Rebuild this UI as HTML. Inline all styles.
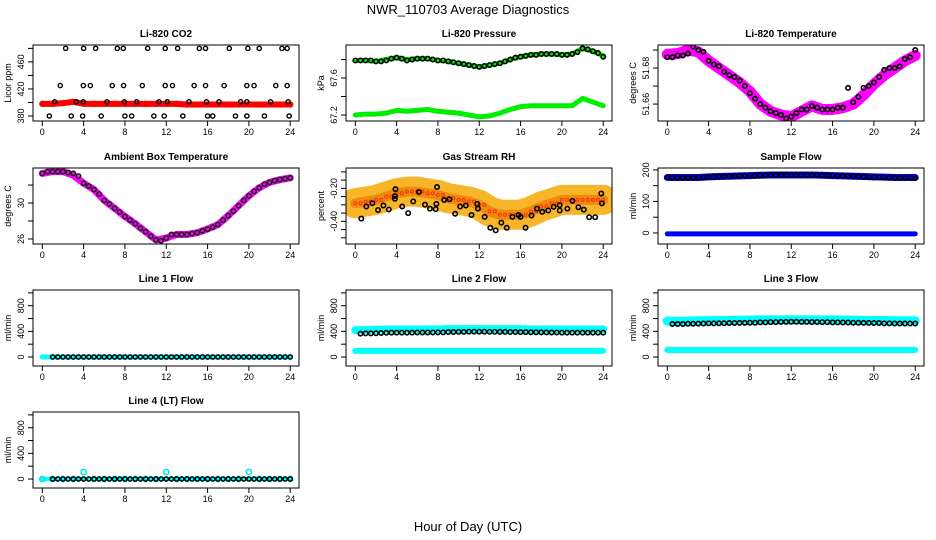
<!DOCTYPE html>
<html><head><meta charset="utf-8">
<style>
body{margin:0;background:#fff;}
svg{display:block;font-family:"Liberation Sans",sans-serif;}
</style></head>
<body>
<svg id="chart" width="936" height="540" viewBox="0 0 936 540" xmlns="http://www.w3.org/2000/svg">
<text x="468" y="14" font-size="13" text-anchor="middle">NWR_110703  Average Diagnostics</text>
<text x="468" y="531" font-size="13" text-anchor="middle">Hour of Day (UTC)</text>
</svg>
<script>
const xTicks = [0,4,8,12,16,20,24];
// CO2
const co2Red = [398,398,399,401,398,398,398,398,398,398,398,398,398,398,397,397,397,397,397,397,397,397,397,397,397];
const co2BlackHours = [2.26,4.0,5.16,7.26,7.84,10.2,11.9,13.1,15.2,15.8,18.1,19.9,21.0,23.2,23.7, 1.74,3.97,4.65,6.77,7.87,9.68,11.9,12.6,14.7,15.8,17.6,19.8,20.5,22.6,23.7, 1.2,3.3,3.97,6.26,7.94,9.13,11.3,12.1,14.2,15.9,17.1,19.2,19.8,22.1,23.8, 0.68,2.8,3.9,5.7,8.0,8.65,10.8,11.8,13.6,16.0,16.5,18.7,19.8,21.5,23.9];
const co2BlackVals = [480,480,480,480,480,480,480,480,480,480,480,480,480,480,480, 425,425,425,425,425,425,425,425,425,425,425,425,425,425,425, 401,401,401,401,401,401,401,401,401,401,401,401,401,401,401, 380,380,380,380,380,380,380,380,380,380,380,380,380,380,380];
// Pressure
const presGreenHi = [67.79,67.79,67.78,67.80,67.82,67.80,67.81,67.81,67.79,67.78,67.76,67.74,67.72,67.74,67.76,67.80,67.83,67.85,67.86,67.86,67.85,67.86,67.92,67.89,67.84];
const presGreenLo = [67.20,67.21,67.21,67.22,67.25,67.24,67.25,67.26,67.24,67.23,67.22,67.20,67.18,67.19,67.22,67.26,67.29,67.30,67.30,67.30,67.30,67.30,67.38,67.34,67.30];
const presBlack = [67.79,67.79,67.79,67.79,67.78,67.78,67.79,67.81,67.82,67.81,67.79,67.80,67.81,67.81,67.81,67.80,67.79,67.79,67.78,67.77,67.76,67.75,67.74,67.73,67.72,67.73,67.74,67.75,67.76,67.78,67.80,67.82,67.83,67.84,67.85,67.85,67.86,67.86,67.86,67.86,67.85,67.85,67.86,67.88,67.92,67.91,67.89,67.87,67.83];
// Li-820 temperature
const ltPink = [51.6876,51.688,51.690,51.689,51.684,51.680,51.676,51.672,51.667,51.660,51.656,51.654,51.653,51.656,51.659,51.657,51.657,51.658,51.660,51.665,51.671,51.676,51.680,51.684,51.687];
const ltBlack = [51.686,51.686,51.687,51.687,51.688,51.692,51.690,51.689,51.684,51.682,51.681,51.678,51.676,51.675,51.673,51.670,51.666,51.663,51.660,51.658,51.656,51.655,51.654,51.652,51.653,51.655,51.657,51.657,51.659,51.658,51.657,51.657,51.657,51.658,51.658,51.669,51.661,51.664,51.669,51.670,51.672,51.675,51.679,51.680,51.680,51.681,51.685,51.686,51.690];
// Ambient
const ambPink = [33.3,33.5,33.5,33.1,32.2,31.5,30.3,29.4,28.5,27.7,26.8,25.9,26.1,26.5,26.5,26.7,27.1,27.6,28.6,29.7,30.8,31.7,32.3,32.6,32.8];
const ambBlack = [33.3,33.5,33.5,33.5,33.5,33.4,33.3,33.0,32.2,31.9,31.5,31.0,30.3,29.9,29.4,29.0,28.5,28.1,27.7,27.2,26.8,26.3,25.9,25.8,26.1,26.5,26.5,26.5,26.5,26.6,26.7,26.9,27.1,27.3,27.6,28.1,28.6,29.1,29.7,30.3,30.8,31.3,31.7,32.1,32.3,32.5,32.6,32.7,32.8];
// RH
const rhCloud = [-0.29,-0.28,-0.27,-0.25,-0.23,-0.22,-0.22,-0.23,-0.24,-0.26,-0.27,-0.28,-0.30,-0.34,-0.36,-0.36,-0.36,-0.34,-0.31,-0.29,-0.27,-0.27,-0.27,-0.27,-0.27];
const rhBlackHours = [0.58,1.07,1.65,2.2,2.72,3.24,3.83,3.83,3.89,4.54,5.12,5.61,6.16,6.75,7.23,7.78,7.85,7.91,8.6,9.11,9.67,10.15,10.7,11.25,11.8,11.87,12.52,13.07,13.59,14.14,14.66,15.21,15.8,15.99,16.48,17.06,17.58,18.1,18.68,19.2,19.79,19.79,20.53,21.02,21.6,22.12,22.64,23.22,23.81,23.87];
const rhBlackVals = [-0.384,-0.31,-0.29,-0.331,-0.304,-0.328,-0.247,-0.263,-0.205,-0.31,-0.35,-0.279,-0.222,-0.299,-0.323,-0.326,-0.294,-0.192,-0.271,-0.266,-0.354,-0.31,-0.304,-0.362,-0.294,-0.323,-0.373,-0.439,-0.455,-0.408,-0.439,-0.373,-0.362,-0.373,-0.439,-0.365,-0.323,-0.342,-0.334,-0.312,-0.302,-0.334,-0.323,-0.276,-0.315,-0.329,-0.375,-0.375,-0.231,-0.291];
// Sample flow
const sfBlueHi = [176,176,176,176,178,179,180,181,182,183,184,184,184,184,184,183,182,181,180,179,178,177,176,176,176];
const sfBlueLo = [-3,-3,-3,-3,-3,-3,-3,-3,-3,-3,-3,-3,-3,-3,-3,-3,-3,-3,-3,-3,-3,-3,-3,-3,-3];
const sfBlack = [176,176,175,175,175,175,176,176,177,178,179,179,180,181,181,181,182,182,183,183,184,184,185,185,184,184,184,184,184,184,183,183,182,182,181,181,180,179,178,177,176,176,176,176,175,175,175,175,174];
// Line flows
const l1Cyan = [0,0,0,0,0,0,0,0,0,0,0,0,0,0,0,0,0,0,0,0,0,0,0,0,0];
const l1Black = [null,null,0,0,0,0,0,0,0,0,0,0,0,0,0,0,0,0,0,0,0,0,0,0,0,0,0,0,0,0,0,0,0,0,0,0,0,0,0,0,0,0,0,0,0,0,0,0,0];
const l2CyanHi = [420,420,425,430,430,430,430,430,430,435,435,435,435,435,435,435,435,430,430,430,430,430,430,430,430];
const l2CyanLo = [95,95,95,95,95,95,95,95,95,95,95,95,95,95,95,95,95,95,95,95,95,95,95,95,95];
const l2Black = [null,365,368,368,370,375,378,380,380,380,380,380,382,382,383,383,385,385,390,390,392,392,395,395,395,395,393,393,392,392,390,390,388,388,386,386,384,384,382,382,380,380,380,380,380,380,380,380,380];
const l3CyanHi = [560,560,560,565,565,570,570,575,575,580,580,580,580,580,580,580,580,575,575,570,570,570,565,565,565];
const l3CyanLo = [110,110,110,110,110,110,110,110,110,110,110,110,110,110,110,110,110,110,110,110,110,110,110,110,110];
const l3Black = [null,515,515,515,518,518,520,522,525,525,527,527,530,530,532,532,535,535,540,540,545,545,548,548,550,550,548,548,546,546,545,545,540,540,538,538,535,535,532,532,530,530,525,525,523,523,522,522,522];
const l4Cyan = [0,0,0,0,110,0,0,0,0,0,0,0,110,0,0,0,0,0,0,0,110,0,0,0,0];
const l4Black = [null,null,0,0,0,0,0,0,0,0,0,0,0,0,0,0,0,0,0,0,0,0,0,0,0,0,0,0,0,0,0,0,0,0,0,0,0,0,0,0,0,0,0,0,0,0,0,0,0];

const NS = "http://www.w3.org/2000/svg";
const svg = document.getElementById('chart');
const hoursHourly = Array.from({length:25},(_, i)=>i);
const hoursHalf = Array.from({length:49},(_, i)=>i/2);
const colX = [0,313,625];
const rowY = [45,168,290,412];

function mk(tag, parent, attrs){
  const e = document.createElementNS(NS, tag);
  for (const k in attrs) e.setAttribute(k, attrs[k]);
  parent.appendChild(e);
  return e;
}

function panel(col,row,name,title,ylab,ylim,ticks,labels){
  const g = mk('g', svg, {});
  
  
  const L = 33+colX[col], R = 299+colX[col], T = rowY[row], B = T+76;
  const sx = h => (42.3+colX[col]) + h*10.33;
  const sy = v => B - (v-ylim[0])/(ylim[1]-ylim[0])*(B-T);
  const t = mk('text', g, {x:(L+R)/2, y:T-8, 'font-size':10, 'font-weight':'bold','text-anchor':'middle'});
  t.textContent = title;
  
  
  const yl = mk('text', g, {x:0,y:0,'font-size':9,'text-anchor':'middle',transform:`translate(${L-22},${(T+B)/2}) rotate(-90)`});
  yl.textContent = ylab;
  
  
  xTicks.forEach(h=>{
    mk('line', g, {x1:sx(h),x2:sx(h),y1:B,y2:B+5,stroke:'#000','stroke-width':1});
    const tx = mk('text', g, {x:sx(h), y:B+14, 'font-size':9,'text-anchor':'middle'});
    tx.textContent = h;
    
    
  });
  ticks.forEach((v,i)=>{
    const y = sy(v);
    mk('line', g, {x1:L-5,x2:L,y1:y,y2:y,stroke:'#000','stroke-width':1});
    if (labels[i] !== '') {
      const ty = mk('text', g, {x:0,y:0,'font-size':9,'text-anchor':'middle',transform:`translate(${L-9},${y}) rotate(-90)`});
      ty.textContent = labels[i];
      
      
    }
  });
  const clip = 'c'+col+row;
  const cp = mk('clipPath', g, {id:clip});
  mk('rect', cp, {x:L,y:T,width:R-L,height:B-T});
  const plot = mk('g', g, {'clip-path':`url(#${clip})`});
  mk('rect', g, {x:L,y:T,width:R-L,height:B-T,fill:'none',stroke:'#000','stroke-width':1});
  return {
    band(hours, vals, color, w, nm){
      const pts = [];
      hours.forEach((h,i)=>{ if (vals[i]!==null) pts.push(sx(h)+','+sy(vals[i])); });
      const p = mk('polyline', plot, {points:pts.join(' '),fill:'none',stroke:color,'stroke-width':w,'stroke-linejoin':'round','stroke-linecap':'round'});
      
      
    },
    dots(hours, vals, color, r, sw, nm){
      hours.forEach((h,i)=>{
        if (vals[i]===null) return;
        const c = mk('circle', plot, {cx:sx(h),cy:sy(vals[i]),r:r,fill:'none',stroke:color,'stroke-width':sw});
        
        
      });
    }
  };
}

let p = panel(0,0,'co2-panel','Li-820 CO2','Licor ppm',[372.6,485],[380,400,420,440,460,480],['380','','420','','460','']);
p.band(hoursHourly, co2Red, '#ff0000', 6, 'co2-red-series');
p.dots(hoursHourly, co2Red, '#ff0000', 2.5, 1.3, 'co2-red-point');
p.dots(co2BlackHours, co2BlackVals, '#000', 2.1, 1.4, 'co2-black-point');

p = panel(1,0,'pressure-panel','Li-820 Pressure','kPa',[67.135,67.957],[67.2,67.4,67.6,67.8],['67.2','','67.6','']);
p.band(hoursHourly, presGreenHi, '#00ee00', 5, 'pressure-green-high');
p.band(hoursHourly, presGreenLo, '#00ee00', 5, 'pressure-green-low');
p.dots(hoursHalf, presBlack, '#000', 2.2, 1.6, 'pressure-black-point');

p = panel(2,0,'li820-temp-panel','Li-820 Temperature','degrees C',[51.6506,51.6928],[51.66,51.67,51.68,51.69],['51.66','','51.68','']);
p.band(hoursHourly, ltPink, '#ff00ff', 11, 'li820-temp-pink');
p.dots(hoursHalf, ltBlack, '#000', 2.2, 1.6, 'li820-temp-black-point');

p = panel(0,1,'ambient-temp-panel','Ambient Box Temperature','degrees C',[25.44,33.9],[26,28,30,32],['26','','30','']);
p.band(hoursHourly, ambPink, '#ff00ff', 7, 'ambient-pink');
p.dots(hoursHalf, ambBlack, '#222', 2.2, 1.6, 'ambient-black-point');

p = panel(1,1,'rh-panel','Gas Stream RH','percent',[-0.5376,-0.0765],[-0.10,-0.15,-0.20,-0.25,-0.30,-0.35,-0.40,-0.45,-0.50],['','','-0.20','','','','-0.40','','']);
p.band(hoursHourly, rhCloud, '#f7b52a', 30, 'rh-cloud');
p.band(hoursHourly, rhCloud, '#ee8a10', 10, 'rh-cloud-core');
p.dots(hoursHalf.map(h=>h), rhCloud.concat([]).length ? hoursHalf.map((h,i)=>rhCloud[Math.floor(i/2)]) : [], '#ff3000', 1.5, 1, 'rh-cloud-point');
p.dots(rhBlackHours, rhBlackVals, '#000', 2.2, 1.6, 'rh-black-point');

p = panel(2,1,'sample-flow-panel','Sample Flow','ml/min',[-35,206],[0,50,100,150,200],['0','','100','','200']);
p.band(hoursHourly, sfBlueHi, '#0000ff', 7, 'sample-flow-blue-high');
p.band(hoursHourly, sfBlueLo, '#0000ff', 5, 'sample-flow-blue-low');
p.dots(hoursHalf, sfBlack, '#000', 2.2, 1.6, 'sample-flow-black-point');

const fTicks = [0,200,400,600,800,1000];
const fLabels = ['0','','400','','800',''];
p = panel(0,2,'line1-flow-panel','Line 1 Flow','ml/min',[-140,1045],fTicks,fLabels);
p.band(hoursHourly, l1Cyan, '#00ffff', 5, 'line1-cyan');
p.dots(hoursHalf, l1Black, '#000', 2.1, 1.5, 'line1-black-point');
p = panel(1,2,'line2-flow-panel','Line 2 Flow','ml/min',[-140,1045],fTicks,fLabels);
p.band(hoursHourly, l2CyanHi, '#00ffff', 8, 'line2-cyan-high');
p.band(hoursHourly, l2CyanLo, '#00ffff', 6, 'line2-cyan-low');
p.dots(hoursHalf, l2Black, '#000', 2.2, 1.6, 'line2-black-point');
p = panel(2,2,'line3-flow-panel','Line 3 Flow','ml/min',[-140,1045],fTicks,fLabels);
p.band(hoursHourly, l3CyanHi, '#00ffff', 9, 'line3-cyan-high');
p.band(hoursHourly, l3CyanLo, '#00ffff', 6, 'line3-cyan-low');
p.dots(hoursHalf, l3Black, '#000', 2.2, 1.6, 'line3-black-point');
p = panel(0,3,'line4-flow-panel','Line 4 (LT) Flow','ml/min',[-140,1045],fTicks,fLabels);
p.band(hoursHourly, l1Cyan, '#00ffff', 4, 'line4-cyan');
p.dots(hoursHourly, l4Cyan, '#00e5ee', 2.6, 1.6, 'line4-cyan-point');
p.dots(hoursHalf, l4Black, '#000', 2.1, 1.5, 'line4-black-point');
</script>
</body></html>
